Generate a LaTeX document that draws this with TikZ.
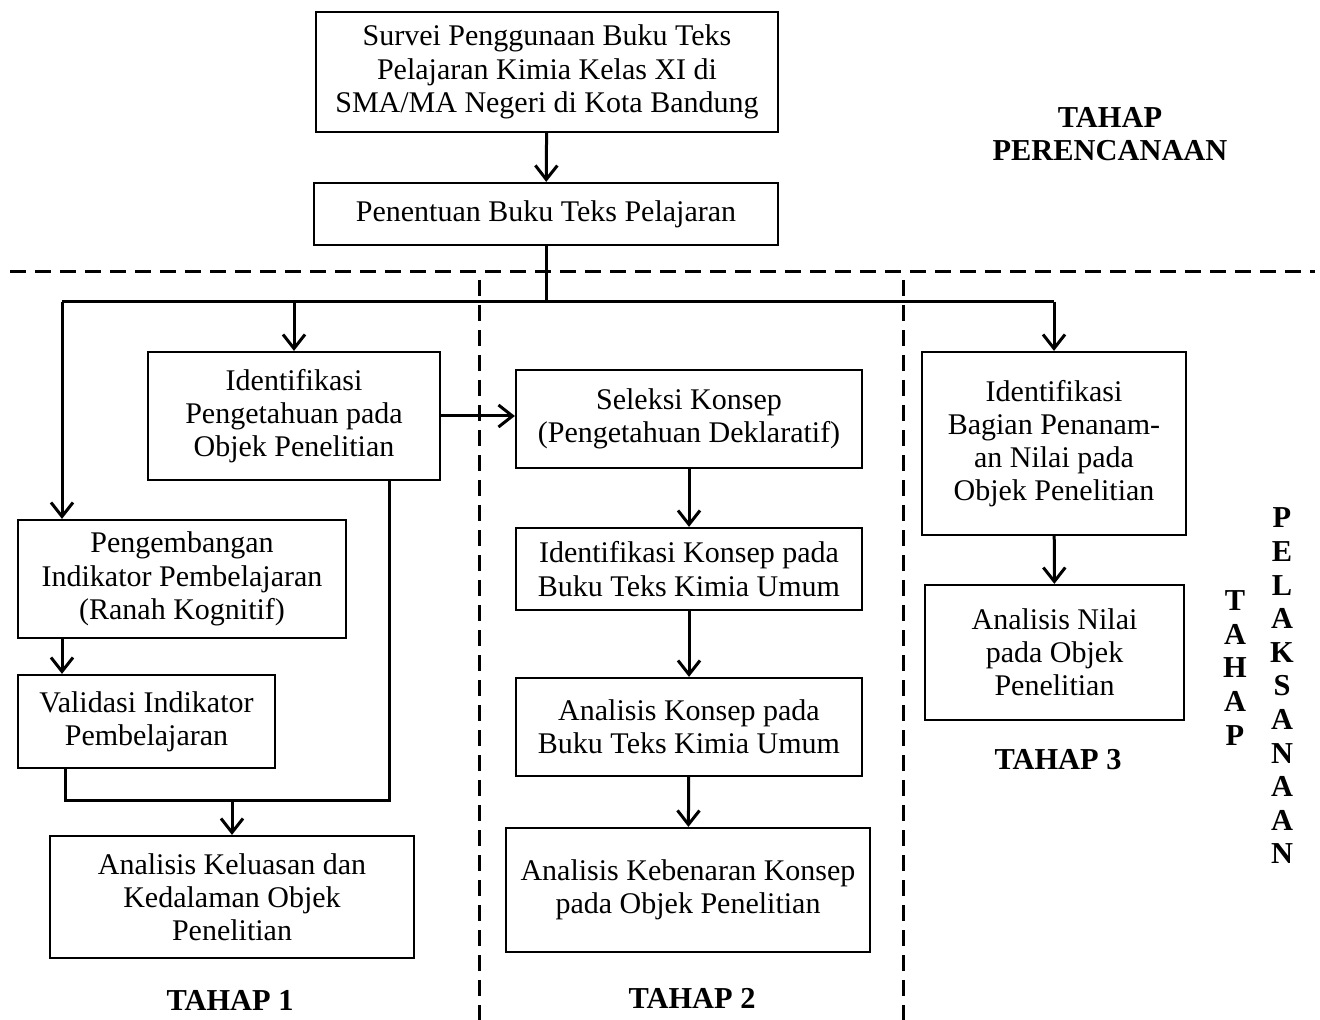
\documentclass[tikz,border=0pt]{standalone}
\usepackage{fontspec}
\setmainfont{Liberation Serif}
\usetikzlibrary{arrows.meta,calc}

\begin{document}
\begin{tikzpicture}[x=0.5pt,y=-0.5pt,
		box/.style={draw,line width=1.1pt,align=center,inner sep=0pt,font=\fontsize{15}{16.6}\selectfont},
		line/.style={line width=1.5pt},
		arr/.style={line,-{Straight Barb[length=7pt,width=11pt,line width=1.5pt]}},
		sep/.style={line width=1.5pt,dash pattern=on 8pt off 4.5pt},
		lbl/.style={font=\fontsize{15.2}{16.8}\selectfont\bfseries,align=center,inner sep=0pt}]
		\useasboundingbox (0,0) rectangle (1320,1020);
		% tahap perencanaan
		\node[box,minimum width=231pt,minimum height=60pt] (survei) at (547,72)
			{Survei Penggunaan Buku Teks\\Pelajaran Kimia Kelas XI di\\SMA/MA Negeri di Kota Bandung};
		\node[box,minimum width=232pt,minimum height=31pt] (tentu) at (546,214)
			{Penentuan Buku Teks Pelajaran};
		\node[lbl] (rencana) at (1110,134) {TAHAP\\PERENCANAAN};
		% batas tahap
		\draw[sep] (10,272) -- (1315,272);
		\draw[sep] (479,280) -- (479,1020);
		\draw[sep] (903,280) -- (903,1020);
		% tahap 1
		\node[box,minimum width=146pt,minimum height=64pt] (ident) at (294,416)
			{Identifikasi\\Pengetahuan pada\\Objek Penelitian};
		\node[box,minimum width=164pt,minimum height=59pt] (kembang) at (182,579)
			{Pengembangan\\Indikator Pembelajaran\\(Ranah Kognitif)};
		\node[box,minimum width=128.5pt,minimum height=46.5pt] (valid) at (146.5,721.5)
			{Validasi Indikator\\Pembelajaran};
		\node[box,minimum width=182pt,minimum height=61pt] (luas) at (232,897)
			{Analisis Keluasan dan\\Kedalaman Objek\\Penelitian};
		\node[lbl] (tahap1) at (230,1000) {TAHAP 1};
		% tahap 2
		\node[box,minimum width=173pt,minimum height=49pt] (seleksi) at (689,419)
			{Seleksi Konsep\\(Pengetahuan Deklaratif)};
		\node[box,minimum width=173pt,minimum height=41pt] (konsep) at (689,569)
			{Identifikasi Konsep pada\\Buku Teks Kimia Umum};
		\node[box,minimum width=173pt,minimum height=49pt] (analisis) at (689,727)
			{Analisis Konsep pada\\Buku Teks Kimia Umum};
		\node[box,minimum width=182pt,minimum height=62pt] (benar) at (688,890)
			{Analisis Kebenaran Konsep\\pada Objek Penelitian};
		\node[lbl] (tahap2) at (692,998) {TAHAP 2};
		% tahap 3
		\node[box,minimum width=132pt,minimum height=91.5pt] (bagian) at (1054,443.5)
			{Identifikasi\\Bagian Penanam-\\an Nilai pada\\Objek Penelitian};
		\node[box,minimum width=129.5pt,minimum height=67.5pt] (nilai) at (1054.5,652.5)
			{Analisis Nilai\\pada Objek\\Penelitian};
		\node[lbl] (tahap3) at (1058,760) {TAHAP 3};
		\node[lbl] (tahap) at (1235,668) {T\\A\\H\\A\\P};
		\node[lbl] (laksana) at (1282,686) {P\\E\\L\\A\\K\\S\\A\\N\\A\\A\\N};
		% alur
		\coordinate (busL) at (62,302);
		\coordinate (busR) at (1054,302);
		\coordinate (gabung) at (232,800);
		\draw[arr] (survei) -- (tentu);
		\draw[line] (tentu.south) -- (tentu.south |- busL);
		\draw[line] (busL) -- (busR);
		\draw[arr] (busL) -- (kembang.north -| busL);
		\draw[arr] (ident.north |- busL) -- (ident.north);
		\draw[arr] (busR) -- (bagian.north);
		\draw[arr] (ident.east) -- (seleksi.west |- ident.east);
		\draw[arr] (kembang.south -| busL) -- (valid.north -| busL);
		\draw[line] (valid.south -| 65,0) |- (gabung) -| ([xshift=-26pt]ident.south east);
		\draw[arr] (gabung) -- (luas.north);
		\draw[arr] (seleksi) -- (konsep);
		\draw[arr] (konsep) -- (analisis);
		\draw[arr] (analisis) -- (benar);
		\draw[arr] (bagian) -- (nilai);
	\end{tikzpicture}
\end{document}
